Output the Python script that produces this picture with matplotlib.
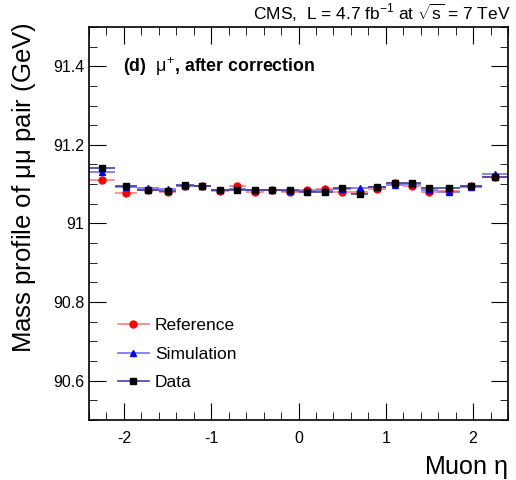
import numpy as np
import matplotlib.pyplot as plt
from matplotlib.ticker import MultipleLocator
from matplotlib.lines import Line2D

plt.rcParams['font.family'] = ['Liberation Sans', 'DejaVu Sans']
plt.rcParams['mathtext.fontset'] = 'custom'
plt.rcParams['mathtext.rm'] = 'Liberation Sans'
plt.rcParams['mathtext.it'] = 'Liberation Sans'
plt.rcParams['axes.unicode_minus'] = False

# bin edges in muon eta
edges = [-2.4, -2.1, -1.85, -1.6, -1.4, -1.2, -1.0, -0.8, -0.6, -0.4, -0.2, 0.0,
         0.2, 0.4, 0.6, 0.8, 1.0, 1.2, 1.4, 1.6, 1.85, 2.1, 2.4]

reference = [91.110, 91.078, 91.086, 91.079, 91.096, 91.095, 91.083, 91.095, 91.080, 91.086, 91.080,
             91.084, 91.087, 91.081, 91.080, 91.088, 91.103, 91.096, 91.079, 91.082, 91.094, 91.117]
simulation = [91.131, 91.093, 91.089, 91.087, 91.096, 91.094, 91.085, 91.087, 91.085, 91.086, 91.083,
              91.083, 91.085, 91.087, 91.089, 91.093, 91.097, 91.100, 91.085, 91.080, 91.093, 91.125]
data = [91.140, 91.096, 91.086, 91.082, 91.097, 91.096, 91.086, 91.084, 91.085, 91.086, 91.084,
        91.079, 91.081, 91.091, 91.076, 91.093, 91.103, 91.104, 91.091, 91.089, 91.095, 91.119]

edges = np.array(edges)
centers = (edges[1:] + edges[:-1]) / 2
half = (edges[1:] - edges[:-1]) / 2

fig = plt.figure(figsize=(5.16, 4.80), dpi=100)
ax = fig.add_axes([0.1725, 0.125, 0.812, 0.819])

ax.errorbar(centers, reference, xerr=half, yerr=0.002, fmt='o', color='red', ecolor='#ff8080',
            ms=5, elinewidth=1.2, capsize=0)
ax.errorbar(centers, simulation, xerr=half, yerr=0.002, fmt='^', color='blue', ecolor='#7070ff',
            ms=5, elinewidth=1.2, capsize=0)
ax.errorbar(centers, data, xerr=half, yerr=0.003, fmt='s', color='black', ecolor='#4040a0',
            ms=5, elinewidth=1.2, capsize=0)

ax.set_xlim(-2.4, 2.4)
ax.set_ylim(90.5, 91.5)
ax.xaxis.set_major_locator(MultipleLocator(1))
ax.xaxis.set_minor_locator(MultipleLocator(0.2))
ax.yaxis.set_minor_locator(MultipleLocator(0.05))
ax.set_yticks([90.6, 90.8, 91.0, 91.2, 91.4])
ax.set_yticklabels(['90.6', '90.8', '91', '91.2', '91.4'])
ax.tick_params(which='both', direction='in', top=True, right=True, labelsize=11.5)
ax.tick_params(which='major', length=12)
ax.tick_params(which='minor', length=6)
ax.tick_params(axis='x', pad=8)
for s in ax.spines.values():
    s.set_linewidth(1.2)

ax.set_ylabel('Mass profile of $\\mu\\mu$ pair (GeV)', fontsize=18.5)
ax.yaxis.set_label_coords(-0.122, 0.59)
ax.set_xlabel('Muon $\\eta$', fontsize=18, loc='right', labelpad=6)
fig.text(0.99, 0.972, 'CMS,  L = 4.7 fb$^{-1}$ at $\\sqrt{s}$ = 7 TeV', ha='right', va='center', fontsize=12.5)
ax.text(0.08, 0.9, '(d)  $\\mu^{+}$, after correction', transform=ax.transAxes, fontsize=12.8,
        fontweight='bold', va='center')

handles = [
    Line2D([], [], color='#ff8080', marker='o', mfc='red', mec='red', ms=5, lw=1.2),
    Line2D([], [], color='#7070ff', marker='^', mfc='blue', mec='blue', ms=5, lw=1.2),
    Line2D([], [], color='#4040a0', marker='s', mfc='black', mec='black', ms=5, lw=1.2),
]
ax.legend(handles, ['Reference', 'Simulation', 'Data'], loc='lower left', bbox_to_anchor=(0.031, 0.037),
          frameon=False, fontsize=12.5, handlelength=1.8, handletextpad=0.35, labelspacing=0.75)

fig.savefig('out.png', dpi=100)
